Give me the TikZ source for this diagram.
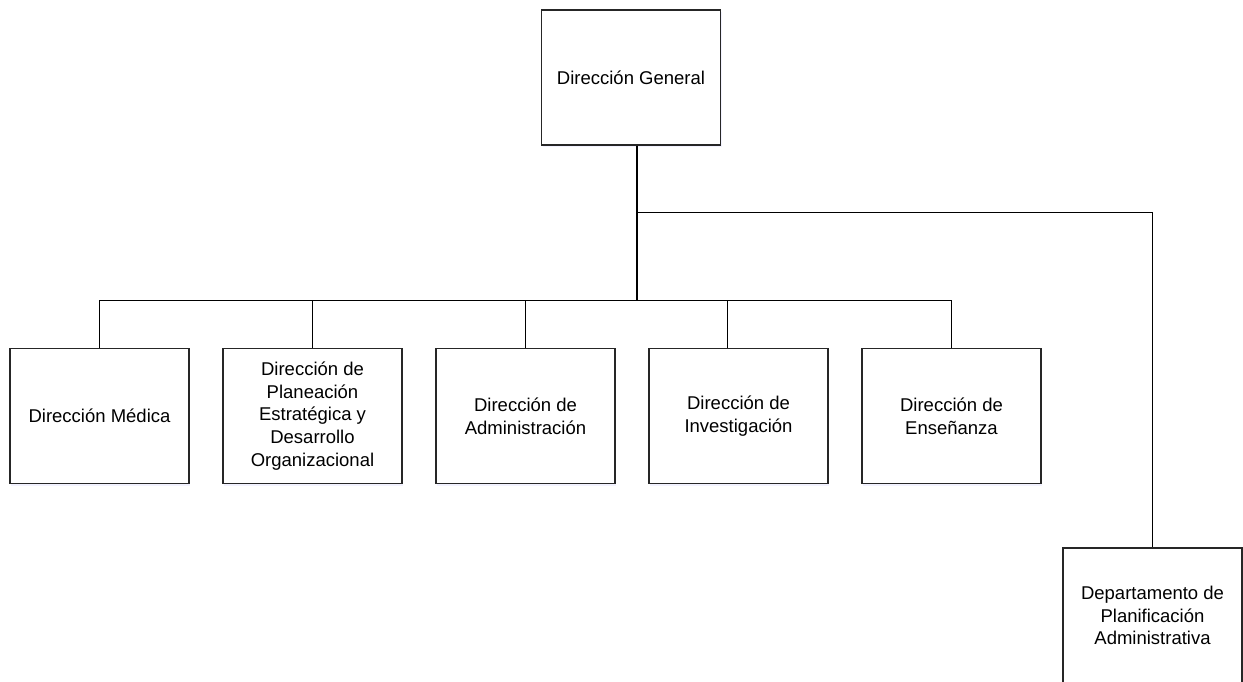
\documentclass[tikz,border=0pt]{standalone}
\usepackage{fontspec}
\setmainfont{Liberation Sans}
\usetikzlibrary{shadows}

\begin{document}
\begin{tikzpicture}
  [x=1pt,y=-1pt,line width=1.1pt,
   every node/.style={draw=black!85,fill=white,rectangle,minimum width=179pt,minimum height=135pt,
     align=center,inner sep=2pt,font=\fontsize{18.5}{22.7}\selectfont,
     drop shadow={shadow xshift=1pt,shadow yshift=-2pt,opacity=0.25,fill=blue!20}}]
  \useasboundingbox (0,0) rectangle (1243,681);
  \node (dg) at (631,77.5)   {Dirección General};
  \node (dm) at (99.5,416)   {Dirección Médica};
  \node (dp) at (312.5,416)  {Dirección de\\Planeación\\Estratégica y\\Desarrollo\\Organizacional};
  \node (da) at (525.5,416)  {Dirección de\\Administración};
  \node (di) at (738.5,416)  {Dirección de\\Investigación};
  \node (de) at (951.5,416)  {Dirección de\\Enseñanza};
  \node (dpa) at (1152.5,615.5) {Departamento de\\Planificación\\Administrativa};
  \coordinate (hub) at ([xshift=6pt,yshift=-155pt]dg.south);
  \draw ([xshift=6pt]dg.south) -- (hub);
  \draw ([xshift=6pt]dg.south) -- ++(0,67) -| (dpa.north);
  \foreach \to/\dx in {dm/0,dp/0,da/0,di/-11,de/0}
    \draw (hub) -| ([xshift=\dx pt]\to.north);
\end{tikzpicture}
\end{document}
